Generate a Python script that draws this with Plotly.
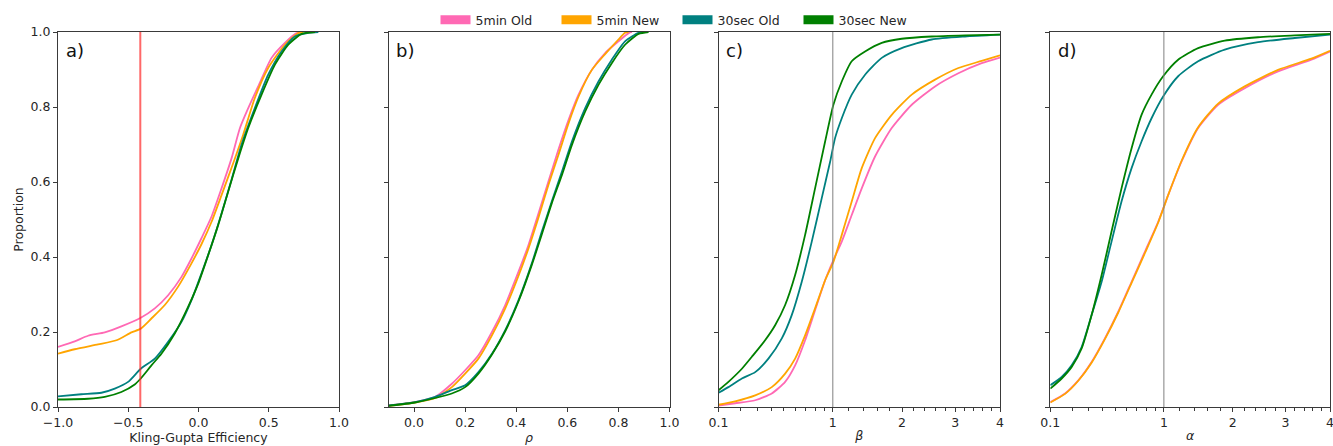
import numpy as np
import plotly.graph_objects as go

# ---------------- data ----------------
series_names = ["5min Old", "5min New", "30sec Old", "30sec New"]
series_colors = ["#ff69b4", "#ffa500", "#008080", "#008000"]

# a) Kling-Gupta Efficiency
kge_x_5min_old = [-1.0, -0.881, -0.786, -0.667, -0.549, -0.411, -0.311, -0.216, -0.121, -0.050, 0.021, 0.093, 0.164, 0.235, 0.295, 0.354, 0.425, 0.520, 0.615, 0.698, 0.734]
kge_y_5min_old = [0.160, 0.175, 0.190, 0.199, 0.215, 0.238, 0.263, 0.298, 0.347, 0.396, 0.450, 0.508, 0.583, 0.663, 0.744, 0.797, 0.855, 0.931, 0.971, 0.997, 1.0]
kge_x_5min_new = [-1.0, -0.881, -0.715, -0.584, -0.477, -0.411, -0.335, -0.240, -0.145, -0.050, 0.021, 0.093, 0.164, 0.247, 0.318, 0.401, 0.496, 0.615, 0.710, 0.746]
kge_y_5min_new = [0.142, 0.154, 0.167, 0.178, 0.199, 0.209, 0.236, 0.272, 0.321, 0.383, 0.434, 0.494, 0.565, 0.650, 0.726, 0.824, 0.904, 0.966, 0.997, 1.0]
kge_x_30sec_old = [-1.0, -0.834, -0.691, -0.596, -0.501, -0.411, -0.311, -0.216, -0.121, -0.050, 0.021, 0.093, 0.164, 0.235, 0.306, 0.401, 0.496, 0.591, 0.686, 0.781, 0.853]
kge_y_30sec_old = [0.0285, 0.034, 0.038, 0.049, 0.067, 0.102, 0.129, 0.174, 0.227, 0.285, 0.356, 0.432, 0.516, 0.606, 0.699, 0.797, 0.886, 0.948, 0.988, 0.998, 1.0]
kge_x_30sec_new = [-1.0, -0.786, -0.667, -0.549, -0.454, -0.411, -0.335, -0.264, -0.169, -0.074, -0.002, 0.069, 0.140, 0.211, 0.283, 0.354, 0.449, 0.544, 0.639, 0.734, 0.829]
kge_y_30sec_new = [0.020, 0.022, 0.027, 0.040, 0.060, 0.076, 0.111, 0.142, 0.196, 0.267, 0.329, 0.405, 0.485, 0.574, 0.663, 0.744, 0.833, 0.913, 0.966, 0.995, 1.0]

# b) rho
rho_x_5min_old = [-0.1, 0.004, 0.083, 0.148, 0.200, 0.252, 0.305, 0.357, 0.409, 0.448, 0.487, 0.526, 0.565, 0.605, 0.644, 0.696, 0.748, 0.800, 0.840, 0.853]
rho_y_5min_old = [0.004, 0.013, 0.027, 0.062, 0.098, 0.138, 0.200, 0.272, 0.361, 0.432, 0.516, 0.601, 0.686, 0.766, 0.833, 0.899, 0.944, 0.975, 0.997, 1.0]
rho_x_5min_new = [-0.1, 0.004, 0.083, 0.148, 0.200, 0.252, 0.305, 0.357, 0.409, 0.448, 0.487, 0.526, 0.565, 0.605, 0.644, 0.696, 0.748, 0.800, 0.826, 0.840]
rho_y_5min_new = [0.003, 0.012, 0.024, 0.053, 0.089, 0.129, 0.191, 0.263, 0.350, 0.423, 0.505, 0.592, 0.672, 0.757, 0.828, 0.899, 0.941, 0.980, 0.998, 1.0]
rho_x_30sec_old = [-0.1, 0.004, 0.083, 0.148, 0.200, 0.252, 0.305, 0.357, 0.409, 0.461, 0.500, 0.539, 0.579, 0.618, 0.670, 0.722, 0.774, 0.826, 0.879, 0.905]
rho_y_30sec_old = [0.004, 0.013, 0.027, 0.045, 0.058, 0.093, 0.142, 0.205, 0.285, 0.383, 0.467, 0.548, 0.628, 0.708, 0.797, 0.868, 0.926, 0.975, 0.998, 1.0]
rho_x_30sec_new = [-0.1, 0.004, 0.083, 0.148, 0.200, 0.252, 0.305, 0.357, 0.409, 0.461, 0.500, 0.539, 0.579, 0.618, 0.670, 0.722, 0.774, 0.826, 0.879, 0.918]
rho_y_30sec_new = [0.003, 0.012, 0.024, 0.036, 0.053, 0.089, 0.140, 0.202, 0.282, 0.379, 0.460, 0.543, 0.619, 0.699, 0.788, 0.859, 0.917, 0.966, 0.995, 1.0]

# c) beta
beta_x_5min_old = [0.1, 0.173, 0.287, 0.403, 0.511, 0.600, 0.696, 0.799, 0.910, 1.007, 1.110, 1.239, 1.376, 1.569, 1.829, 2.167, 2.597, 3.066, 3.574, 4.0]
beta_y_5min_old = [0.004, 0.010, 0.018, 0.036, 0.067, 0.111, 0.178, 0.258, 0.338, 0.392, 0.441, 0.512, 0.583, 0.668, 0.744, 0.806, 0.855, 0.890, 0.917, 0.932]
beta_x_5min_new = [0.1, 0.173, 0.287, 0.403, 0.511, 0.600, 0.696, 0.799, 0.910, 1.007, 1.110, 1.239, 1.376, 1.569, 1.829, 2.167, 2.597, 3.066, 3.574, 4.0]
beta_y_5min_new = [0.006, 0.015, 0.031, 0.053, 0.089, 0.129, 0.191, 0.263, 0.338, 0.387, 0.459, 0.548, 0.637, 0.717, 0.779, 0.833, 0.873, 0.904, 0.923, 0.938]
beta_x_30sec_old = [0.1, 0.141, 0.208, 0.287, 0.378, 0.483, 0.569, 0.663, 0.764, 0.872, 0.968, 1.027, 1.110, 1.239, 1.423, 1.671, 1.994, 2.533, 3.207, 4.0]
beta_y_30sec_old = [0.038, 0.053, 0.076, 0.093, 0.129, 0.183, 0.245, 0.334, 0.441, 0.557, 0.654, 0.717, 0.770, 0.833, 0.886, 0.931, 0.957, 0.980, 0.988, 0.993]
beta_x_30sec_new = [0.1, 0.141, 0.208, 0.266, 0.354, 0.429, 0.511, 0.600, 0.696, 0.799, 0.910, 1.007, 1.110, 1.239, 1.423, 1.671, 1.994, 2.533, 3.207, 4.0]
beta_y_30sec_new = [0.0445, 0.067, 0.102, 0.134, 0.178, 0.218, 0.272, 0.352, 0.459, 0.583, 0.708, 0.806, 0.868, 0.922, 0.948, 0.971, 0.982, 0.988, 0.991, 0.993]

# d) alpha
alpha_x_5min_old = [0.1, 0.164, 0.235, 0.319, 0.416, 0.526, 0.649, 0.784, 0.933, 1.052, 1.223, 1.455, 1.760, 2.210, 2.847, 3.563, 4.0]
alpha_y_5min_old = [0.013, 0.036, 0.071, 0.120, 0.183, 0.254, 0.334, 0.414, 0.494, 0.565, 0.654, 0.744, 0.806, 0.850, 0.895, 0.926, 0.948]
alpha_x_5min_new = [0.1, 0.164, 0.235, 0.319, 0.416, 0.526, 0.649, 0.784, 0.933, 1.052, 1.223, 1.455, 1.760, 2.210, 2.847, 3.563, 4.0]
alpha_y_5min_new = [0.012, 0.035, 0.070, 0.118, 0.181, 0.252, 0.331, 0.410, 0.492, 0.565, 0.656, 0.746, 0.809, 0.855, 0.899, 0.929, 0.950]
alpha_x_30sec_old = [0.1, 0.148, 0.198, 0.255, 0.319, 0.391, 0.469, 0.555, 0.649, 0.749, 0.857, 0.991, 1.179, 1.455, 1.867, 2.455, 3.195, 4.0]
alpha_y_30sec_old = [0.058, 0.080, 0.111, 0.160, 0.245, 0.334, 0.441, 0.548, 0.637, 0.708, 0.770, 0.828, 0.882, 0.922, 0.953, 0.973, 0.984, 0.993]
alpha_x_30sec_new = [0.1, 0.148, 0.198, 0.255, 0.319, 0.391, 0.469, 0.555, 0.649, 0.749, 0.857, 0.991, 1.179, 1.455, 1.867, 2.455, 3.195, 4.0]
alpha_y_30sec_new = [0.049, 0.076, 0.107, 0.156, 0.245, 0.352, 0.468, 0.583, 0.690, 0.779, 0.833, 0.882, 0.926, 0.957, 0.977, 0.986, 0.991, 0.995]

y_ticks = [0.0, 0.2, 0.4, 0.6, 0.8, 1.0]
kge_ticks = [-1.0, -0.5, 0.0, 0.5, 1.0]
rho_ticks = [0.0, 0.2, 0.4, 0.6, 0.8, 1.0]
ratio_ticks = [0.1, 1, 2, 3, 4]
ratio_minor = [0.2, 0.3, 0.4, 0.5, 0.6, 0.7, 0.8, 0.9, 1.2, 1.4, 1.6, 1.8,
               2.2, 2.4, 2.6, 2.8, 3.2, 3.4, 3.6, 3.8]
kge_threshold = 1 - np.sqrt(2)
panel_labels = ["a)", "b)", "c)", "d)"]
x_titles = ["Kling-Gupta Efficiency", "<i>ρ</i>", "<i>β</i>", "<i>α</i>"]

# ---------------- figure ----------------
W, H = 1333, 446
ML, MR, MT, MB = 58, 3, 32, 39
pw = W - ML - MR
doms = [[0, 281 / pw], [330.5 / pw, 611.5 / pw], [660.5 / pw, 942 / pw], [992.3 / pw, 1.0]]

sqrt_t = lambda v: np.sqrt(np.asarray(v, dtype=float))

panels = [
    (kge_x_5min_old, kge_y_5min_old, kge_x_5min_new, kge_y_5min_new,
     kge_x_30sec_old, kge_y_30sec_old, kge_x_30sec_new, kge_y_30sec_new),
    (rho_x_5min_old, rho_y_5min_old, rho_x_5min_new, rho_y_5min_new,
     rho_x_30sec_old, rho_y_30sec_old, rho_x_30sec_new, rho_y_30sec_new),
    (beta_x_5min_old, beta_y_5min_old, beta_x_5min_new, beta_y_5min_new,
     beta_x_30sec_old, beta_y_30sec_old, beta_x_30sec_new, beta_y_30sec_new),
    (alpha_x_5min_old, alpha_y_5min_old, alpha_x_5min_new, alpha_y_5min_new,
     alpha_x_30sec_old, alpha_y_30sec_old, alpha_x_30sec_new, alpha_y_30sec_new),
]

fig = go.Figure()
FONT = "DejaVu Sans"
TXT = "#262626"
AX = "#3a3a3a"

for p, data in enumerate(panels):
    xa = "x" if p == 0 else f"x{p+1}"
    ya = "y" if p == 0 else f"y{p+1}"
    for s in range(4):
        xs = data[2 * s]
        ys = data[2 * s + 1]
        if p >= 2:
            xs = sqrt_t(xs)
        fig.add_trace(go.Scatter(
            x=list(xs), y=ys, mode="lines", xaxis=xa, yaxis=ya,
            line=dict(color=series_colors[s], width=1.8, shape="spline", smoothing=0.6),
            showlegend=False, hoverinfo="skip"))

# legend-only swatches
for s in range(4):
    fig.add_trace(go.Scatter(x=[None], y=[None], mode="lines", name=series_names[s],
                             line=dict(color=series_colors[s], width=9), showlegend=True))

axis_common = dict(showline=True, linecolor=AX, linewidth=1, mirror=True, ticks="outside",
                   ticklen=4, tickwidth=1, tickcolor=AX, showgrid=False, zeroline=False,
                   tickfont=dict(family=FONT, size=12.5, color=TXT))

layout = dict(
    width=W, height=H, margin=dict(l=ML, r=MR, t=MT, b=MB, autoexpand=False),
    plot_bgcolor="white", paper_bgcolor="white",
    font=dict(family=FONT, size=12.5, color=TXT),
    legend=dict(orientation="h", xref="container", yref="container", x=0.5 + 11 / W,
                xanchor="center", y=1 - 20 / H, yanchor="middle",
                font=dict(family=FONT, size=12.5, color=TXT),
                itemwidth=30, entrywidth=76, tracegroupgap=0, bgcolor="rgba(0,0,0,0)"),
)

for p in range(4):
    xk = "xaxis" if p == 0 else f"xaxis{p+1}"
    yk = "yaxis" if p == 0 else f"yaxis{p+1}"
    xa = dict(axis_common, domain=doms[p], anchor="y" if p == 0 else f"y{p+1}",
              automargin=False, ticklabeloverflow="allow",
              title=dict(text=x_titles[p], standoff=2, font=dict(family=FONT, size=12.5, color=TXT)))
    if p == 0:
        xa.update(range=[-1, 1], tickmode="array", tickvals=kge_ticks,
                  ticktext=["−1.0", "−0.5", "0.0", "0.5", "1.0"])
    elif p == 1:
        xa.update(range=[-0.1, 1.0], tickmode="array", tickvals=rho_ticks,
                  ticktext=[f"{v:.1f}" for v in rho_ticks])
    else:
        xa.update(range=[float(np.sqrt(0.1)), 2.0], tickmode="array",
                  tickvals=list(sqrt_t(ratio_ticks)), ticktext=["0.1", "1", "2", "3", "4"],
                  minor=dict(tickmode="array", tickvals=list(sqrt_t(ratio_minor)), ticks="outside",
                             ticklen=2.5, tickwidth=0.8, tickcolor=AX, showgrid=False))
    layout[xk] = xa
    ya = dict(axis_common, range=[0, 1], tickmode="array", tickvals=y_ticks, automargin=False,
              ticktext=[f"{v:.1f}" for v in y_ticks], anchor="x" if p == 0 else f"x{p+1}")
    if p == 0:
        ya.update(title=dict(text="Proportion", standoff=4,
                             font=dict(family=FONT, size=12.5, color=TXT)))
    else:
        ya.update(showticklabels=False, matches="y")
    layout[yk] = ya

fig.update_layout(**layout)

# reference lines
fig.add_shape(type="line", xref="x", yref="y domain", x0=kge_threshold, x1=kge_threshold,
              y0=0, y1=1, line=dict(color="rgba(255,40,40,0.7)", width=2))
for p in (2, 3):
    fig.add_shape(type="line", xref=f"x{p+1}", yref=f"y{p+1} domain", x0=1.0, x1=1.0,
                  y0=0, y1=1, line=dict(color="#808080", width=1))

# panel labels
for p in range(4):
    fig.add_annotation(text=panel_labels[p], xref=("x domain" if p == 0 else f"x{p+1} domain"),
                       yref=("y domain" if p == 0 else f"y{p+1} domain"), x=0.02, y=0.985,
                       xanchor="left", yanchor="top", showarrow=False,
                       font=dict(family=FONT, size=18, color="#111"))

fig.write_html("out.html", config={"displayModeBar": False},
               post_script="document.body.style.margin='0';")
